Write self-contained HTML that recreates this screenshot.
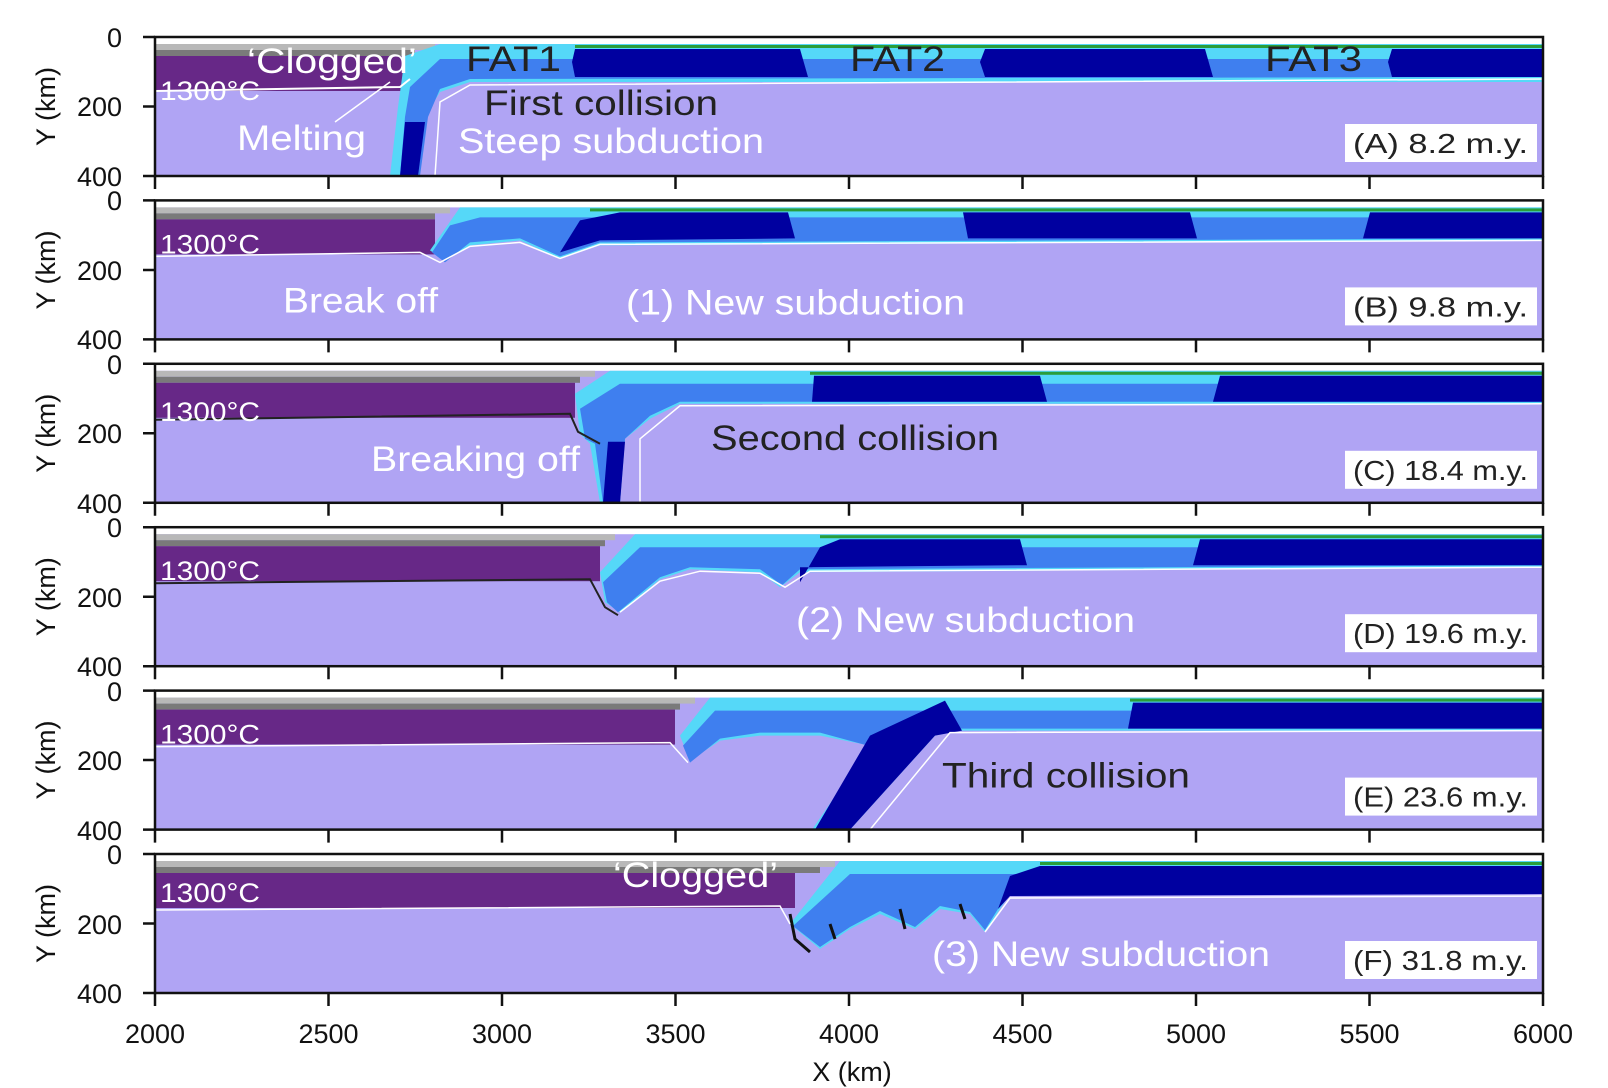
<!DOCTYPE html>
<html><head><meta charset="utf-8"><style>
body{margin:0;background:#fff}
svg{display:block;font-family:"Liberation Sans",Arial,sans-serif}
.w{fill:#fff}.d{fill:#222}
</style></head><body>
<svg width="1608" height="1088" viewBox="0 0 1608 1088" xmlns="http://www.w3.org/2000/svg">
<defs>
<g id="base">
<rect x="155" y="0" width="1388" height="139" fill="#b0a4f4"/>
<rect x="155" y="0" width="1388" height="7" fill="#fff"/>
</g>
</defs>

<!-- Panel A -->
<g transform="translate(0,37)">
<use href="#base"/>
<rect x="155" y="7" width="280" height="6" fill="#b8b8b8"/>
<rect x="155" y="13" width="260" height="6" fill="#7a7a7a"/>
<rect x="155" y="19" width="250" height="35" fill="#672887"/>
<polygon points="405,19 440,7 1543,7 1543,45 470,45 440,55 425,80 418,139 390,139 398,70" fill="#55d8f8"/>
<polygon points="410,50 440,22 1543,22 1543,40 470,42 440,52 428,80 420,139 400,139 405,80" fill="#3f7fef"/>
<polygon points="400,139 405,85 425,85 418,139" fill="#0000a0"/>
<polygon points="575,12 800,12 808,40 575,40 572,25" fill="#0000a0"/>
<polygon points="985,12 1205,12 1213,40 985,40 980,25" fill="#0000a0"/>
<polygon points="1392,12 1543,12 1543,40 1392,40 1388,25" fill="#0000a0"/>
<rect x="575" y="8" width="968" height="3" fill="#2a9d3a"/>
<path d="M155,54 L400,50 L410,42" stroke="#fff" stroke-width="2" fill="none"/>
<path d="M435,139 L440,65 L470,48 L1543,42" stroke="#fff" stroke-width="1.5" fill="none"/>
<text x="160" y="63" class="w" font-size="27" textLength="100" lengthAdjust="spacingAndGlyphs">1300°C</text>
<text x="247" y="36" class="w" font-size="35" textLength="170" lengthAdjust="spacingAndGlyphs">‘Clogged’</text>
<text x="466" y="34" class="d" font-size="35" textLength="95" lengthAdjust="spacingAndGlyphs">FAT1</text>
<text x="850" y="34" class="d" font-size="35" textLength="95" lengthAdjust="spacingAndGlyphs">FAT2</text>
<text x="1265" y="34" class="d" font-size="35" textLength="97" lengthAdjust="spacingAndGlyphs">FAT3</text>
<text x="484" y="78" class="d" font-size="35" textLength="234" lengthAdjust="spacingAndGlyphs">First collision</text>
<text x="458" y="116" class="w" font-size="35" textLength="306" lengthAdjust="spacingAndGlyphs">Steep subduction</text>
<text x="237" y="113" class="w" font-size="35" textLength="129" lengthAdjust="spacingAndGlyphs">Melting</text>
<line x1="335" y1="85" x2="390" y2="45" stroke="#fff" stroke-width="1.5"/>
<rect x="1345" y="87" width="192" height="38" fill="#fff"/>
<text x="1353" y="116" class="d" font-size="28" textLength="175" lengthAdjust="spacingAndGlyphs">(A) 8.2 m.y.</text>
</g>

<!-- Panel B -->
<g transform="translate(0,200.4)">
<use href="#base"/>
<rect x="155" y="7" width="295" height="6" fill="#b8b8b8"/>
<rect x="155" y="13" width="280" height="6" fill="#7a7a7a"/>
<rect x="155" y="19" width="280" height="35" fill="#672887"/>
<polygon points="430,50 460,7 1543,7 1543,40 600,45 560,58 520,40 470,45 445,60" fill="#55d8f8"/>
<polygon points="432,52 450,25 480,17 1543,17 1543,38 600,42 560,56 520,38 470,42 445,62" fill="#3f7fef"/>
<polygon points="560,52 580,20 620,12 788,12 795,38 600,40" fill="#0000a0"/>
<polygon points="963,12 1190,12 1197,38 968,38" fill="#0000a0"/>
<polygon points="1370,12 1543,12 1543,38 1363,38" fill="#0000a0"/>
<rect x="590" y="8" width="953" height="3" fill="#2a9d3a"/>
<path d="M155,56 L420,52 L440,62 L470,46 L520,42 L560,58 L600,44 L1543,40" stroke="#fff" stroke-width="1.5" fill="none"/>
<text x="160" y="53" class="w" font-size="27" textLength="100" lengthAdjust="spacingAndGlyphs">1300°C</text>
<text x="283" y="112" class="w" font-size="35" textLength="155" lengthAdjust="spacingAndGlyphs">Break off</text>
<text x="626" y="114" class="w" font-size="35" textLength="339" lengthAdjust="spacingAndGlyphs">(1) New subduction</text>
<rect x="1345" y="87" width="192" height="38" fill="#fff"/>
<text x="1353" y="116" class="d" font-size="28" textLength="175" lengthAdjust="spacingAndGlyphs">(B) 9.8 m.y.</text>
</g>

<!-- Panel C -->
<g transform="translate(0,363.8)">
<use href="#base"/>
<rect x="155" y="7" width="440" height="6" fill="#b8b8b8"/>
<rect x="155" y="13" width="425" height="6" fill="#7a7a7a"/>
<rect x="155" y="19" width="420" height="35" fill="#672887"/>
<polygon points="575,30 610,7 1543,7 1543,40 680,40 650,55 625,75 620,139 600,139 590,80 580,70" fill="#55d8f8"/>
<polygon points="580,45 620,20 1543,20 1543,38 680,38 650,52 625,75 620,139 603,139 595,80 585,75" fill="#3f7fef"/>
<polygon points="603,139 608,78 625,78 620,139" fill="#0000a0"/>
<polygon points="814,12 1040,12 1047,38 812,38" fill="#0000a0"/>
<polygon points="1220,12 1543,12 1543,38 1213,38" fill="#0000a0"/>
<rect x="810" y="8" width="733" height="3" fill="#2a9d3a"/>
<path d="M155,56 L570,50 L578,68 L600,80" stroke="#222" stroke-width="2" fill="none"/>
<path d="M640,139 L640,75 L680,42 L1543,40" stroke="#fff" stroke-width="1.5" fill="none"/>
<text x="160" y="57" class="w" font-size="27" textLength="100" lengthAdjust="spacingAndGlyphs">1300°C</text>
<text x="711" y="86" class="d" font-size="35" textLength="288" lengthAdjust="spacingAndGlyphs">Second collision</text>
<text x="371" y="107" class="w" font-size="35" textLength="209" lengthAdjust="spacingAndGlyphs">Breaking off</text>
<rect x="1345" y="87" width="192" height="38" fill="#fff"/>
<text x="1353" y="116" class="d" font-size="28" textLength="175" lengthAdjust="spacingAndGlyphs">(C) 18.4 m.y.</text>
</g>

<!-- Panel D -->
<g transform="translate(0,527.2)">
<use href="#base"/>
<rect x="155" y="7" width="460" height="6" fill="#b8b8b8"/>
<rect x="155" y="13" width="450" height="6" fill="#7a7a7a"/>
<rect x="155" y="19" width="445" height="35" fill="#672887"/>
<polygon points="600,45 635,7 1543,7 1543,40 800,45 780,60 760,45 690,42 660,52 620,85 605,75" fill="#55d8f8"/>
<polygon points="603,55 640,20 1543,20 1543,38 800,42 782,58 760,42 690,40 660,50 618,85 607,75" fill="#3f7fef"/>
<polygon points="800,55 820,20 840,12 1020,12 1027,38 800,40" fill="#0000a0"/>
<polygon points="1200,12 1543,12 1543,38 1193,38" fill="#0000a0"/>
<rect x="820" y="8" width="723" height="3" fill="#2a9d3a"/>
<path d="M155,56 L590,52 L605,80 L618,88" stroke="#222" stroke-width="2" fill="none"/>
<path d="M620,85 L660,54 L700,44 L760,46 L785,60 L810,44 L1543,40" stroke="#fff" stroke-width="1.5" fill="none"/>
<text x="160" y="53" class="w" font-size="27" textLength="100" lengthAdjust="spacingAndGlyphs">1300°C</text>
<text x="796" y="105" class="w" font-size="35" textLength="339" lengthAdjust="spacingAndGlyphs">(2) New subduction</text>
<rect x="1345" y="87" width="192" height="38" fill="#fff"/>
<text x="1353" y="116" class="d" font-size="28" textLength="175" lengthAdjust="spacingAndGlyphs">(D) 19.6 m.y.</text>
</g>

<!-- Panel E -->
<g transform="translate(0,690.6)">
<use href="#base"/>
<rect x="155" y="7" width="540" height="6" fill="#b8b8b8"/>
<rect x="155" y="13" width="525" height="6" fill="#7a7a7a"/>
<rect x="155" y="19" width="520" height="35" fill="#672887"/>
<polygon points="680,45 710,7 1543,7 1543,40 960,40 935,45 850,139 812,139 870,55 820,45 760,45 720,50 690,70" fill="#55d8f8"/>
<polygon points="683,55 715,20 1543,20 1543,38 960,38 935,43 850,139 815,139 868,55 820,42 760,42 720,48 690,72" fill="#3f7fef"/>
<polygon points="815,139 870,45 945,10 962,40 935,45 850,139" fill="#0000a0"/>
<polygon points="1133,12 1543,12 1543,38 1128,38" fill="#0000a0"/>
<rect x="1130" y="8" width="413" height="3" fill="#2a9d3a"/>
<path d="M155,56 L670,52 L688,72" stroke="#fff" stroke-width="1.5" fill="none"/>
<path d="M870,139 L950,42 L1543,40" stroke="#fff" stroke-width="1.5" fill="none"/>
<text x="160" y="53" class="w" font-size="27" textLength="100" lengthAdjust="spacingAndGlyphs">1300°C</text>
<text x="942" y="97" class="d" font-size="35" textLength="248" lengthAdjust="spacingAndGlyphs">Third collision</text>
<rect x="1345" y="87" width="192" height="38" fill="#fff"/>
<text x="1353" y="116" class="d" font-size="28" textLength="175" lengthAdjust="spacingAndGlyphs">(E) 23.6 m.y.</text>
</g>

<!-- Panel F -->
<g transform="translate(0,854)">
<use href="#base"/>
<rect x="155" y="7" width="680" height="6" fill="#b8b8b8"/>
<rect x="155" y="13" width="665" height="6" fill="#7a7a7a"/>
<rect x="155" y="19" width="640" height="35" fill="#672887"/>
<polygon points="790,70 840,7 1543,7 1543,40 1010,40 1000,55 985,78 970,60 940,55 915,75 880,60 850,75 820,95" fill="#55d8f8"/>
<polygon points="793,72 850,20 1543,20 1543,38 1010,38 998,55 985,76 970,58 940,52 915,73 880,57 850,73 820,93" fill="#3f7fef"/>
<polygon points="998,55 1010,22 1040,12 1543,12 1543,40 1010,42" fill="#0000a0"/>
<rect x="1040" y="8" width="503" height="3" fill="#2a9d3a"/>
<path d="M790,60 L795,85 L810,98 M830,70 L835,85 M900,55 L905,75 M960,50 L965,65" stroke="#111" stroke-width="3" fill="none"/>
<path d="M155,56 L780,52 L790,70" stroke="#fff" stroke-width="1.5" fill="none"/>
<path d="M985,78 L1010,44 L1543,42" stroke="#fff" stroke-width="1.5" fill="none"/>
<text x="160" y="48" class="w" font-size="27" textLength="100" lengthAdjust="spacingAndGlyphs">1300°C</text>
<text x="613" y="33" class="w" font-size="35" textLength="165" lengthAdjust="spacingAndGlyphs">‘Clogged’</text>
<text x="932" y="112" class="w" font-size="35" textLength="338" lengthAdjust="spacingAndGlyphs">(3) New subduction</text>
<rect x="1345" y="87" width="192" height="38" fill="#fff"/>
<text x="1353" y="116" class="d" font-size="28" textLength="175" lengthAdjust="spacingAndGlyphs">(F) 31.8 m.y.</text>
</g>

<!-- Frames, ticks -->
<g fill="none" stroke="#111" stroke-width="2.5">
<rect x="155" y="37" width="1388" height="139"/>
<rect x="155" y="200.4" width="1388" height="139"/>
<rect x="155" y="363.8" width="1388" height="139"/>
<rect x="155" y="527.2" width="1388" height="139"/>
<rect x="155" y="690.6" width="1388" height="139"/>
<rect x="155" y="854" width="1388" height="139"/>
<path d="M143,37H155M143,106.5H155M143,176H155
M143,200.4H155M143,270H155M143,339.4H155
M143,363.8H155M143,433.3H155M143,502.8H155
M143,527.2H155M143,596.7H155M143,666.2H155
M143,690.6H155M143,760H155M143,829.6H155
M143,854H155M143,923.5H155M143,993H155"/>
<path id="xt" d="M155,176v13M328.5,176v13M502,176v13M675.5,176v13M849,176v13M1022.5,176v13M1196,176v13M1369.5,176v13M1543,176v13"/>
<use href="#xt" y="163.4"/><use href="#xt" y="326.8"/><use href="#xt" y="490.2"/><use href="#xt" y="653.6"/><use href="#xt" y="817"/>
</g>
<g font-size="27" fill="#111" text-anchor="end">
<text x="122" y="47">0</text><text x="122" y="116">200</text><text x="122" y="186">400</text>
<text x="122" y="210">0</text><text x="122" y="280">200</text><text x="122" y="349">400</text>
<text x="122" y="374">0</text><text x="122" y="443">200</text><text x="122" y="513">400</text>
<text x="122" y="537">0</text><text x="122" y="607">200</text><text x="122" y="676">400</text>
<text x="122" y="701">0</text><text x="122" y="770">200</text><text x="122" y="840">400</text>
<text x="122" y="864">0</text><text x="122" y="934">200</text><text x="122" y="1003">400</text>
</g>
<g font-size="27" fill="#111" text-anchor="middle">
<text transform="translate(55,106.5) rotate(-90)">Y (km)</text>
<text transform="translate(55,270) rotate(-90)">Y (km)</text>
<text transform="translate(55,433.3) rotate(-90)">Y (km)</text>
<text transform="translate(55,596.7) rotate(-90)">Y (km)</text>
<text transform="translate(55,760) rotate(-90)">Y (km)</text>
<text transform="translate(55,923.5) rotate(-90)">Y (km)</text>
<text x="155" y="1043">2000</text><text x="328.5" y="1043">2500</text><text x="502" y="1043">3000</text>
<text x="675.5" y="1043">3500</text><text x="849" y="1043">4000</text><text x="1022.5" y="1043">4500</text>
<text x="1196" y="1043">5000</text><text x="1369.5" y="1043">5500</text><text x="1543" y="1043">6000</text>
<text x="852" y="1081">X (km)</text>
</g>
</svg>
</body></html>
